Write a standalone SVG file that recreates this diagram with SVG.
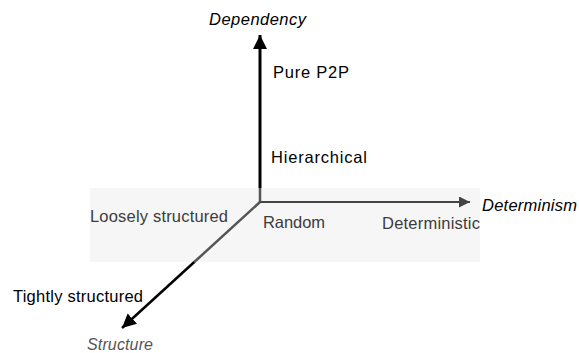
<svg xmlns="http://www.w3.org/2000/svg" width="579" height="353" viewBox="0 0 579 353">
  <style>
    text { font-family: "Liberation Sans", Arial, sans-serif; font-size: 16.5px; fill: #000; }
    .axis { font-style: italic; font-size: 16.5px; }
    .dim { fill: #3c3c3c; }
    .grey { fill: #555; font-size: 16px; }
  </style>
  <defs>
    <marker id="arrBig" markerUnits="userSpaceOnUse" markerWidth="14" markerHeight="14" refX="14" refY="7" orient="auto">
      <path d="M0,0 L14,7 L0,14 z" fill="#000"/>
    </marker>
    <marker id="arrGrey" markerUnits="userSpaceOnUse" markerWidth="11" markerHeight="11" refX="11" refY="5.5" orient="auto">
      <path d="M0,0 L11,5.5 L0,11 z" fill="#444"/>
    </marker>
  </defs>
  <rect id="plane" x="90" y="188" width="390" height="74" fill="#f6f6f6"/>
  <g id="connectors" fill="none">
    <line x1="260" y1="188" x2="260" y2="35" stroke="#000" stroke-width="3" marker-end="url(#arrBig)"/>
    <line x1="260" y1="202" x2="260" y2="188" stroke="#555" stroke-width="2.5"/>
    <line x1="260" y1="202" x2="470" y2="202" stroke="#444" stroke-width="2" marker-end="url(#arrGrey)"/>
    <line x1="260" y1="202" x2="194.3" y2="262" stroke="#555" stroke-width="2.5"/>
    <line x1="194.3" y1="262" x2="122" y2="328" stroke="#000" stroke-width="2.5" marker-end="url(#arrBig)"/>
  </g>
  <g id="dependency"><text class="axis" x="209" y="25" textLength="97">Dependency</text></g>
  <g id="pure-p2p"><text x="273" y="78" textLength="76">Pure P2P</text></g>
  <g id="hierarchical"><text x="271" y="163" textLength="96">Hierarchical</text></g>
  <g id="determinism"><text class="axis" x="482" y="211" textLength="95">Determinism</text></g>
  <g id="loosely-structured"><text class="dim" x="90" y="222" textLength="138">Loosely structured</text></g>
  <g id="random"><text class="dim" x="263" y="228" textLength="62">Random</text></g>
  <g id="deterministic"><text class="dim" x="382" y="229" textLength="98">Deterministic</text></g>
  <g id="tightly-structured"><text x="13" y="302" textLength="130">Tightly structured</text></g>
  <g id="structure"><text class="axis grey" x="87" y="350" textLength="66">Structure</text></g>
</svg>
